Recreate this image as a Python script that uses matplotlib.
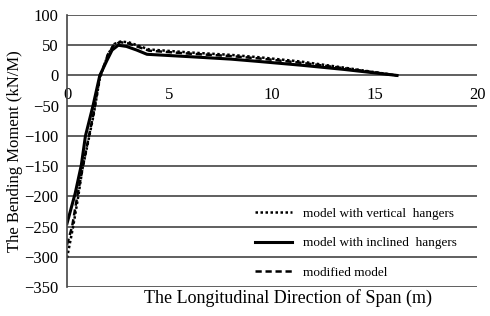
import matplotlib
matplotlib.use("Agg")
from matplotlib import pyplot as plt

plt.rcParams['font.family'] = ['Liberation Serif', 'DejaVu Serif']

# model with vertical hangers
x_vert = [0, 0.3, 0.55, 0.75, 1.0, 1.3, 1.6, 2.0, 2.3, 2.6, 3.0, 3.5, 4.0, 6.0, 8.0, 9.4, 11.4, 13.5, 16.1]
y_vert = [-302, -250, -200, -155, -115, -65, -5, 35, 52, 56, 55, 49, 43, 38, 34, 30, 23, 13, 0]

# model with inclined hangers
x_incl = [0, 0.4, 0.7, 0.9, 1.27, 1.6, 1.95, 2.2, 2.5, 2.9, 3.4, 3.9, 6.0, 8.0, 9.4, 11.4, 13.5, 16.1]
y_incl = [-245, -195, -148, -100, -50, 0, 25, 42, 50, 48, 42, 35, 31, 27, 23, 17, 10, 0]

# modified model
x_mod = [0, 0.25, 0.5, 0.75, 1.0, 1.3, 1.6, 2.0, 2.3, 2.6, 3.0, 3.5, 4.0, 6.0, 8.0, 9.4, 11.4, 13.5, 16.1]
y_mod = [-280, -250, -200, -155, -112, -62, -3, 35, 51, 55, 53, 47, 41, 36, 32, 28, 21, 12, 0]

labels = ['model with vertical  hangers', 'model with inclined  hangers', 'modified model']

fig = plt.figure(figsize=(4.9, 3.16), dpi=100)
ax = fig.add_axes([67 / 490, 1 - 287 / 316, 410 / 490, 272 / 316])

ax.plot(x_vert, y_vert, color='black', linestyle=(0, (1, 1)), linewidth=1.8, label=labels[0])
ax.plot(x_incl, y_incl, color='black', linestyle='solid', linewidth=2.2, label=labels[1])
ax.plot(x_mod, y_mod, color='black', linestyle=(0, (2.5, 1.5)), linewidth=1.8, label=labels[2])

ax.set_xlim(0, 20)
ax.set_ylim(-350, 100)
ax.set_xticks([0, 5, 10, 15, 20])
ax.set_yticks(range(-350, 101, 50))
ax.set_yticklabels([str(v).replace('-', '\u2212') for v in range(-350, 101, 50)])

ax.yaxis.grid(True, color='#444444', linewidth=1.2)
ax.set_axisbelow(True)
for s in ['top', 'right']:
    ax.spines[s].set_visible(False)
ax.spines['bottom'].set_position(('data', 0))
ax.spines['bottom'].set_visible(False)
ax.spines['left'].set_color('#444444')
ax.spines['left'].set_linewidth(1.2)
ax.tick_params(axis='both', length=0, labelsize=12)
ax.tick_params(axis='x', pad=8)
ax.tick_params(axis='y', pad=6)

fig.text(15 / 490, 1 - 151 / 316, 'The Bending Moment (kN/M)', fontsize=12,
         rotation=90, ha='center', va='center')
fig.text(288 / 490, 1 - 298 / 316, 'The Longitudinal Direction of Span (m)',
         fontsize=13, ha='center', va='center')

leg = ax.legend(loc='center left', bbox_to_anchor=(248 / 490, 1 - 243 / 316),
                bbox_transform=fig.transFigure, frameon=False, fontsize=9.5,
                handlelength=2.8, handletextpad=0.9, labelspacing=1.3, borderpad=0)

fig.savefig('out.png', dpi=100)
